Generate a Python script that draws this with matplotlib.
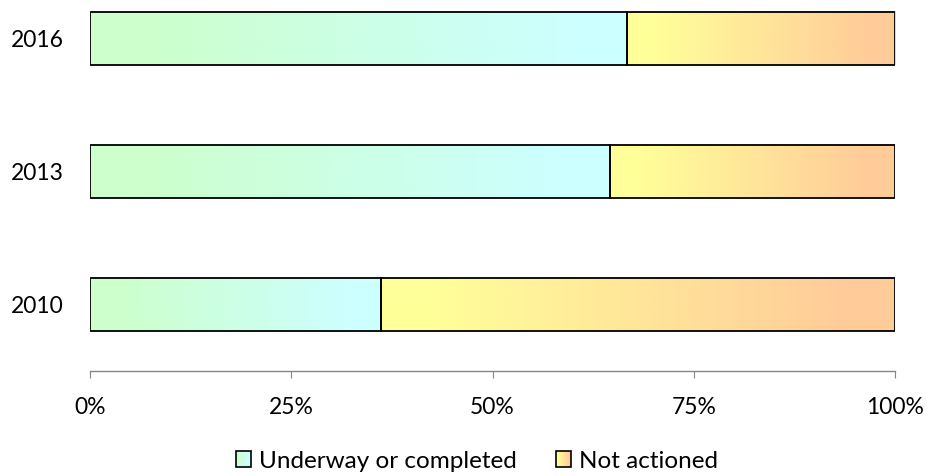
import numpy as np
import matplotlib
matplotlib.use('Agg')
import matplotlib.pyplot as plt
from matplotlib.colors import LinearSegmentedColormap
from matplotlib.legend_handler import HandlerBase
from matplotlib.patches import Rectangle
from matplotlib.image import BboxImage
from matplotlib.transforms import Bbox, TransformedBbox

plt.rcParams['font.family'] = ['Lato', 'DejaVu Sans']

# Dữ liệu
years = ['2010', '2013', '2016']
done = [36.2, 64.6, 66.7]          # Underway or completed (%)
not_done = [100 - v for v in done]  # Not actioned (%)
labels = ['Underway or completed', 'Not actioned']
xticks = [0, 25, 50, 75, 100]

# Dải màu chuyển sắc cho từng nhóm
green_cmap = LinearSegmentedColormap.from_list(
    'g', [(0, '#CCFFCC'), (0.1, '#CCFFCC'), (0.9, '#CCFFFF'), (1, '#CCFFFF')])
yellow_cmap = LinearSegmentedColormap.from_list(
    'y', [(0, '#FFFF99'), (0.1, '#FFFF99'), (0.9, '#FFCC99'), (1, '#FFCC99')])
grad = np.linspace(0, 1, 256).reshape(1, -1)


class GradientHandler(HandlerBase):
    def __init__(self, cmap):
        super().__init__()
        self.cmap = cmap

    def create_artists(self, legend, orig_handle, xdescent, ydescent,
                       width, height, fontsize, trans):
        bb = TransformedBbox(Bbox.from_bounds(-xdescent, -ydescent, width, height), trans)
        img = BboxImage(bb, cmap=self.cmap, interpolation='bilinear')
        img.set_data(grad)
        rect = Rectangle((-xdescent, -ydescent), width, height, facecolor='none',
                         edgecolor='black', linewidth=1.2, transform=trans)
        return [img, rect]


fig = plt.figure(figsize=(9.27, 4.76), dpi=100)
ax = fig.add_axes([90 / 927, 105 / 476, 805 / 927, 371 / 476])

y = np.arange(len(years))
h = 0.4
for i in range(len(years)):
    ax.imshow(grad, cmap=green_cmap, aspect='auto', interpolation='bilinear',
              extent=(0, done[i], y[i] - h / 2, y[i] + h / 2), zorder=1)
    ax.imshow(grad, cmap=yellow_cmap, aspect='auto', interpolation='bilinear',
              extent=(done[i], 100, y[i] - h / 2, y[i] + h / 2), zorder=1)
ax.barh(y, done, height=h, facecolor='none', edgecolor='black', linewidth=1.3, zorder=2)
ax.barh(y, not_done, left=done, height=h, facecolor='none', edgecolor='black',
        linewidth=1.3, zorder=2)

ax.set_xlim(0, 100)
ax.set_ylim(-0.5, 2.29)
ax.set_yticks(y)
ax.set_yticklabels(years)
ax.set_xticks(xticks)
ax.set_xticklabels([f'{t}%' for t in xticks])
ax.tick_params(axis='y', length=0, pad=19, labelsize=16.5)
ax.tick_params(axis='x', length=5, width=0.8, color='#868686', pad=14, labelsize=16.5)
for s in ['top', 'right', 'left']:
    ax.spines[s].set_visible(False)
ax.spines['bottom'].set_color('#868686')
ax.spines['bottom'].set_linewidth(1)

h1 = Rectangle((0, 0), 1, 1)
h2 = Rectangle((0, 0), 1, 1)
fig.legend([h1, h2], labels, loc='center', bbox_to_anchor=(477 / 927, 1 - 461 / 476),
           ncol=2, frameon=False, fontsize=17.5, handlelength=0.6, handleheight=0.6,
           handletextpad=0.33, columnspacing=1.65,
           handler_map={h1: GradientHandler(green_cmap), h2: GradientHandler(yellow_cmap)})

plt.savefig('out.png', dpi=100)
